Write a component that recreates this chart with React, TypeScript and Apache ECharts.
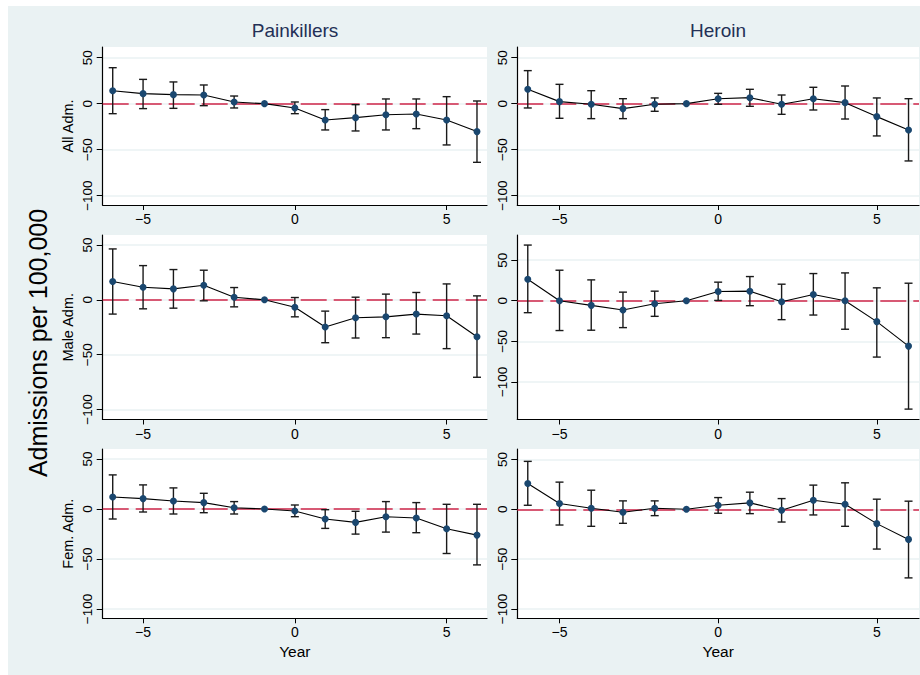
import React, { useEffect, useRef } from "react";
import * as echarts from "echarts";

const years = [-6, -5, -4, -3, -2, -1, 0, 1, 2, 3, 4, 5, 6];

const painAll = [14.1, 10.9, 9.8, 9.4, 1.8, 0, -4.7, -17.8, -15.2, -12.0, -11.2, -17.8, -30.4];
const painAllHi = [39.1, 26.4, 23.6, 20.3, 8.3, null, 1.8, -6.5, -1.1, 5.1, 5.1, 7.6, 2.9];
const painAllLo = [-10.9, -5.4, -5.1, -2.2, -4.7, null, -10.9, -28.6, -29.7, -28.6, -27.2, -44.9, -63.8];

const herAll = [15.6, 2.2, -0.7, -5.4, -0.7, 0, 5.4, 6.5, -0.7, 5.4, 1.1, -14.1, -28.6];
const herAllHi = [35.9, 21.0, 14.1, 5.4, 6.2, null, 11.2, 15.6, 9.4, 17.8, 19.2, 6.2, 5.4];
const herAllLo = [-4.7, -15.9, -16.3, -16.3, -8.3, null, -0.7, -2.9, -11.6, -6.9, -16.7, -35.1, -62.3];

const painMale = [16.7, 11.5, 10.0, 13.3, 2.4, 0, -6.7, -24.8, -16.4, -15.5, -13.0, -14.5, -33.6];
const painMaleHi = [46.4, 31.2, 27.6, 27.0, 11.2, null, 2.1, -10.3, 2.4, 5.2, 6.7, 14.5, 3.6];
const painMaleLo = [-13.0, -8.2, -7.6, -0.9, -6.4, null, -15.5, -39.1, -34.8, -34.5, -31.2, -44.5, -70.6];

const herMale = [26.5, 0, -5.7, -11.4, -3.7, 0, 11.4, 11.8, -1.2, 7.8, 0, -25.7, -55.9];
const herMaleHi = [68.6, 37.6, 25.7, 10.6, 11.8, null, 22.9, 29.8, 20.4, 33.5, 34.3, 15.9, 21.6];
const herMaleLo = [-14.7, -36.7, -36.3, -33.1, -19.2, null, 0.4, -6.1, -23.3, -17.6, -35.1, -69.4, -133.5];

const painFem = [12.0, 10.4, 8.0, 6.4, 1.3, 0, -2.0, -10.0, -13.4, -7.7, -9.0, -19.7, -26.1];
const painFemHi = [34.1, 24.1, 21.1, 15.7, 7.4, null, 4.0, -0.7, -2.3, 7.4, 6.4, 4.7, 4.7];
const painFemLo = [-10.0, -3.0, -5.0, -3.7, -5.0, null, -7.7, -19.4, -25.1, -23.1, -23.7, -44.5, -55.9];

const herFem = [25.8, 5.7, 1.0, -3.0, 1.0, 0, 4.0, 6.4, -1.0, 9.1, 5.0, -14.4, -30.2];
const herFemHi = [48.0, 27.2, 19.1, 8.4, 8.4, null, 11.7, 17.1, 10.7, 24.2, 26.5, 10.1, 8.1];
const herFemLo = [4.0, -15.8, -17.1, -14.1, -6.4, null, -4.0, -4.4, -12.8, -5.7, -17.1, -39.9, -68.8];

const columnTitles = ["Painkillers", "Heroin"];
const rowTitles = ["All Adm.", "Male Adm.", "Fem. Adm."];
const xTicks = [-5, 0, 5];
const yTicks = [50, 0, -50, -100];
const xTitle = "Year";
const yTitle = "Admissions per 100,000";

const panelData = [
  { est: painAll, lo: painAllLo, hi: painAllHi, ymin: -110.2, ymax: 61.6 },
  { est: herAll, lo: herAllLo, hi: herAllHi, ymin: -110.2, ymax: 61.6 },
  { est: painMale, lo: painMaleLo, hi: painMaleHi, ymin: -109.1, ymax: 59.1 },
  { est: herMale, lo: herMaleLo, hi: herMaleHi, ymin: -146.3, ymax: 81 },
  { est: painFem, lo: painFemLo, hi: painFemHi, ymin: -109.3, ymax: 60 },
  { est: herFem, lo: herFemLo, hi: herFemHi, ymin: -109.3, ymax: 60.4 },
];

const FONT = "'Liberation Sans', Arial, Helvetica, sans-serif";
const fmt = (v: number) => String(v).replace("-", "\u2212");

export default function App() {
  const ref = useRef<HTMLDivElement>(null);

  useEffect(() => {
    if (!ref.current) return;
    const chart = echarts.init(ref.current, null, { renderer: "svg" });

    const colLeft = [94.7, 509.3];
    const colWidth = [384.3, 401.7];
    const rowTop = [41, 229, 443];
    const rowHeight = [158, 184.5, 169.3];

    const grids: any[] = [];
    const xAxes: any[] = [];
    const yAxes: any[] = [];
    const series: any[] = [];

    panelData.forEach((p, i) => {
      const r = Math.floor(i / 2);
      const c = i % 2;
      grids.push({
        left: colLeft[c],
        top: rowTop[r],
        width: colWidth[c],
        height: rowHeight[r],
        show: true,
        backgroundColor: "#ffffff",
        borderWidth: 0,
      });
      xAxes.push({
        type: "value",
        gridIndex: i,
        min: -6.33,
        max: 6.33,
        axisLine: { show: true, onZero: false, lineStyle: { color: "#000", width: 1.2 } },
        axisTick: { show: true, customValues: xTicks, length: 5, lineStyle: { color: "#000", width: 1 } },
        axisLabel: {
          show: true,
          customValues: xTicks,
          formatter: fmt,
          fontSize: 14,
          fontFamily: FONT,
          color: "#000",
          margin: 7,
        },
        splitLine: { show: false },
        name: r === 2 ? xTitle : "",
        nameLocation: "middle",
        nameGap: 25,
        nameTextStyle: { fontSize: 15.5, fontFamily: FONT, color: "#000" },
      });
      yAxes.push({
        type: "value",
        gridIndex: i,
        min: p.ymin,
        max: p.ymax,
        axisLine: { show: true, onZero: false, lineStyle: { color: "#000", width: 1.2 } },
        axisTick: { show: true, customValues: yTicks, length: 6, lineStyle: { color: "#000", width: 1 } },
        axisLabel: {
          show: true,
          customValues: yTicks,
          formatter: fmt,
          rotate: 90,
          fontSize: 13.5,
          fontFamily: FONT,
          color: "#000",
          margin: 8,
        },
        splitLine: { show: true, lineStyle: { color: "#eaf2f3", width: 1.5 } },
        name: c === 0 ? rowTitles[r] : "",
        nameLocation: "middle",
        nameGap: 27,
        nameTextStyle: { fontSize: 14.5, fontFamily: FONT, color: "#000" },
      });

      const barData: any[] = [];
      years.forEach((yr, k) => {
        if (p.lo[k] !== null && p.hi[k] !== null) barData.push([yr, p.lo[k], p.hi[k]]);
      });

      series.push({
        type: "custom",
        xAxisIndex: i,
        yAxisIndex: i,
        z: 2,
        data: barData,
        encode: { x: 0, y: [1, 2] },
        renderItem: (_params: any, api: any) => {
          const x = api.value(0);
          const a = api.coord([x, api.value(1)]);
          const b = api.coord([x, api.value(2)]);
          const w = 4;
          const st = { stroke: "#1a1a1a", lineWidth: 1.4 };
          return {
            type: "group",
            children: [
              { type: "line", shape: { x1: a[0], y1: a[1], x2: b[0], y2: b[1] }, style: st },
              { type: "line", shape: { x1: a[0] - w, y1: a[1], x2: a[0] + w, y2: a[1] }, style: st },
              { type: "line", shape: { x1: b[0] - w, y1: b[1], x2: b[0] + w, y2: b[1] }, style: st },
            ],
          };
        },
      });

      series.push({
        type: "line",
        xAxisIndex: i,
        yAxisIndex: i,
        z: 3,
        data: years.map((yr, k) => [yr, p.est[k]]),
        symbol: "circle",
        symbolSize: 7,
        itemStyle: { color: "#1a476f" },
        lineStyle: { color: "#000", width: 1.1 },
        markLine: {
          silent: true,
          symbol: "none",
          label: { show: false },
          lineStyle: { color: "#d0264a", width: 1.6, type: [26, 7] },
          data: [{ yAxis: 0 }],
          z: 1,
        },
      });
    });

    chart.setOption({
      animation: false,
      backgroundColor: "#eaf2f3",
      grid: grids,
      xAxis: xAxes,
      yAxis: yAxes,
      series,
      graphic: [
        {
          type: "text",
          x: 287,
          y: 24,
          style: {
            text: columnTitles[0],
            textAlign: "center",
            textVerticalAlign: "middle",
            fontSize: 19,
            fontFamily: FONT,
            fill: "#243056",
          },
        },
        {
          type: "text",
          x: 710,
          y: 24,
          style: {
            text: columnTitles[1],
            textAlign: "center",
            textVerticalAlign: "middle",
            fontSize: 19,
            fontFamily: FONT,
            fill: "#243056",
          },
        },
        {
          type: "text",
          x: 30,
          y: 337,
          rotation: Math.PI / 2,
          style: {
            text: yTitle,
            textAlign: "center",
            textVerticalAlign: "middle",
            fontSize: 25,
            fontFamily: FONT,
            fill: "#000",
          },
        },
      ],
    });

    return () => chart.dispose();
  }, []);

  return (
    <div
      ref={ref}
      style={{ position: "absolute", left: 8, top: 6, width: 912, height: 669 }}
    />
  );
}
